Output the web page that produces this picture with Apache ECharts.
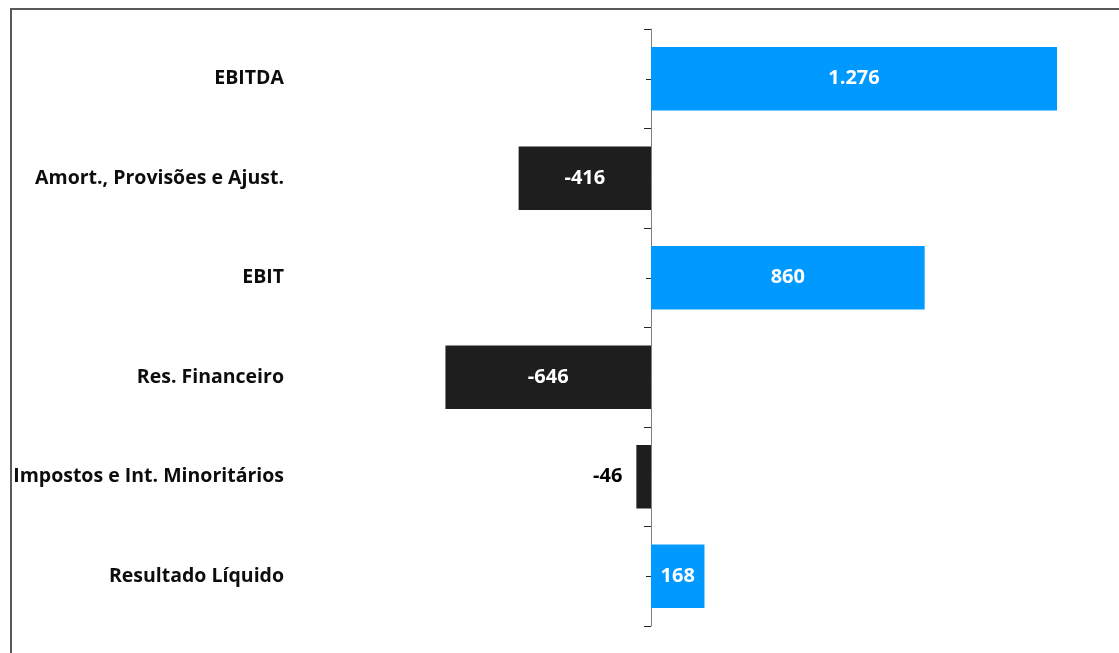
<!DOCTYPE html>
<html>
<head>
<meta charset="utf-8">
<style>
  html, body { margin: 0; padding: 0; background: #ffffff; }
  #chart { width: 1119px; height: 653px; }
</style>
<script src="https://cdn.jsdelivr.net/npm/echarts@6/dist/echarts.min.js"></script>
</head>
<body>
<div id="chart"></div>
<script>
// Demonstração de resultados (valores em milhões)
const categories = [
  'EBITDA',
  'Amort., Provisões e Ajust.',
  'EBIT',
  'Res. Financeiro',
  'Impostos e Int. Minoritários',
  'Resultado Líquido'
];
const values = [1276, -416, 860, -646, -46, 168];

// Axis extent (hidden value axis)
const axisMin = -1000;
const axisMax = 1400;

const POSITIVE = '#0099FF';
const NEGATIVE = '#1E1E1E';
const FONT = 'Open Sans';

function fmt(v) {
  const s = String(Math.abs(v)).replace(/\B(?=(\d{3})+(?!\d))/g, '.');
  return (v < 0 ? '-' : '') + s;
}

const zeroX = 651;
const pxPerUnit = 0.3182;
const gridLeft = zeroX + axisMin * pxPerUnit;
const gridWidth = (axisMax - axisMin) * pxPerUnit;
const labelRight = 284;

const chart = echarts.init(document.getElementById('chart'), null, { renderer: 'canvas' });

const seriesData = values.map(function (v) {
  const small = Math.abs(v) < 100;
  return {
    value: v,
    itemStyle: { color: v >= 0 ? POSITIVE : NEGATIVE },
    label: small ? { position: 'left', distance: 14, color: '#000000' } : {}
  };
});

chart.setOption({
  animation: false,
  graphic: [{
    type: 'rect',
    shape: { x: 11, y: 9, width: 1300, height: 800 },
    style: { fill: 'none', stroke: '#595959', lineWidth: 2 },
    silent: true
  }],
  grid: {
    left: gridLeft,
    width: gridWidth,
    top: 29,
    bottom: 27,
    containLabel: false,
    outerBoundsMode: 'none'
  },
  xAxis: {
    type: 'value',
    min: axisMin,
    max: axisMax,
    show: false
  },
  yAxis: {
    type: 'category',
    data: categories,
    inverse: true,
    position: 'left',
    axisLine: { onZero: true, lineStyle: { color: '#7F7F7F', width: 1 } },
    axisTick: { show: true, inside: false, length: 7, alignWithLabel: false, lineStyle: { color: '#262626' } },
    axisLabel: {
      margin: gridLeft - labelRight,
      color: '#0D0D0D',
      fontFamily: FONT,
      fontWeight: 'bold',
      fontSize: 19.5,
      padding: [2, 0, 0, 0]
    },
    splitLine: { show: false }
  },
  series: [{
    type: 'bar',
    data: seriesData,
    barCategoryGap: '36%',
    label: {
      show: true,
      position: 'inside',
      color: '#FFFFFF',
      fontFamily: FONT,
      fontWeight: 'bold',
      fontSize: 20,
      padding: [2, 0, 0, 0],
      formatter: function (p) { return fmt(p.value); }
    }
  }, {
    // short ticks at each category centre, on the zero line
    type: 'custom',
    silent: true,
    z: 5,
    data: categories.map(function (c, i) { return [0, i]; }),
    encode: { x: 0, y: 1 },
    renderItem: function (params, api) {
      const p = api.coord([api.value(0), api.value(1)]);
      return {
        type: 'line',
        shape: { x1: p[0] - 5, y1: Math.round(p[1]) + 0.5, x2: p[0], y2: Math.round(p[1]) + 0.5 },
        style: { stroke: '#262626', lineWidth: 1 }
      };
    }
  }]
});
</script>
</body>
</html>
